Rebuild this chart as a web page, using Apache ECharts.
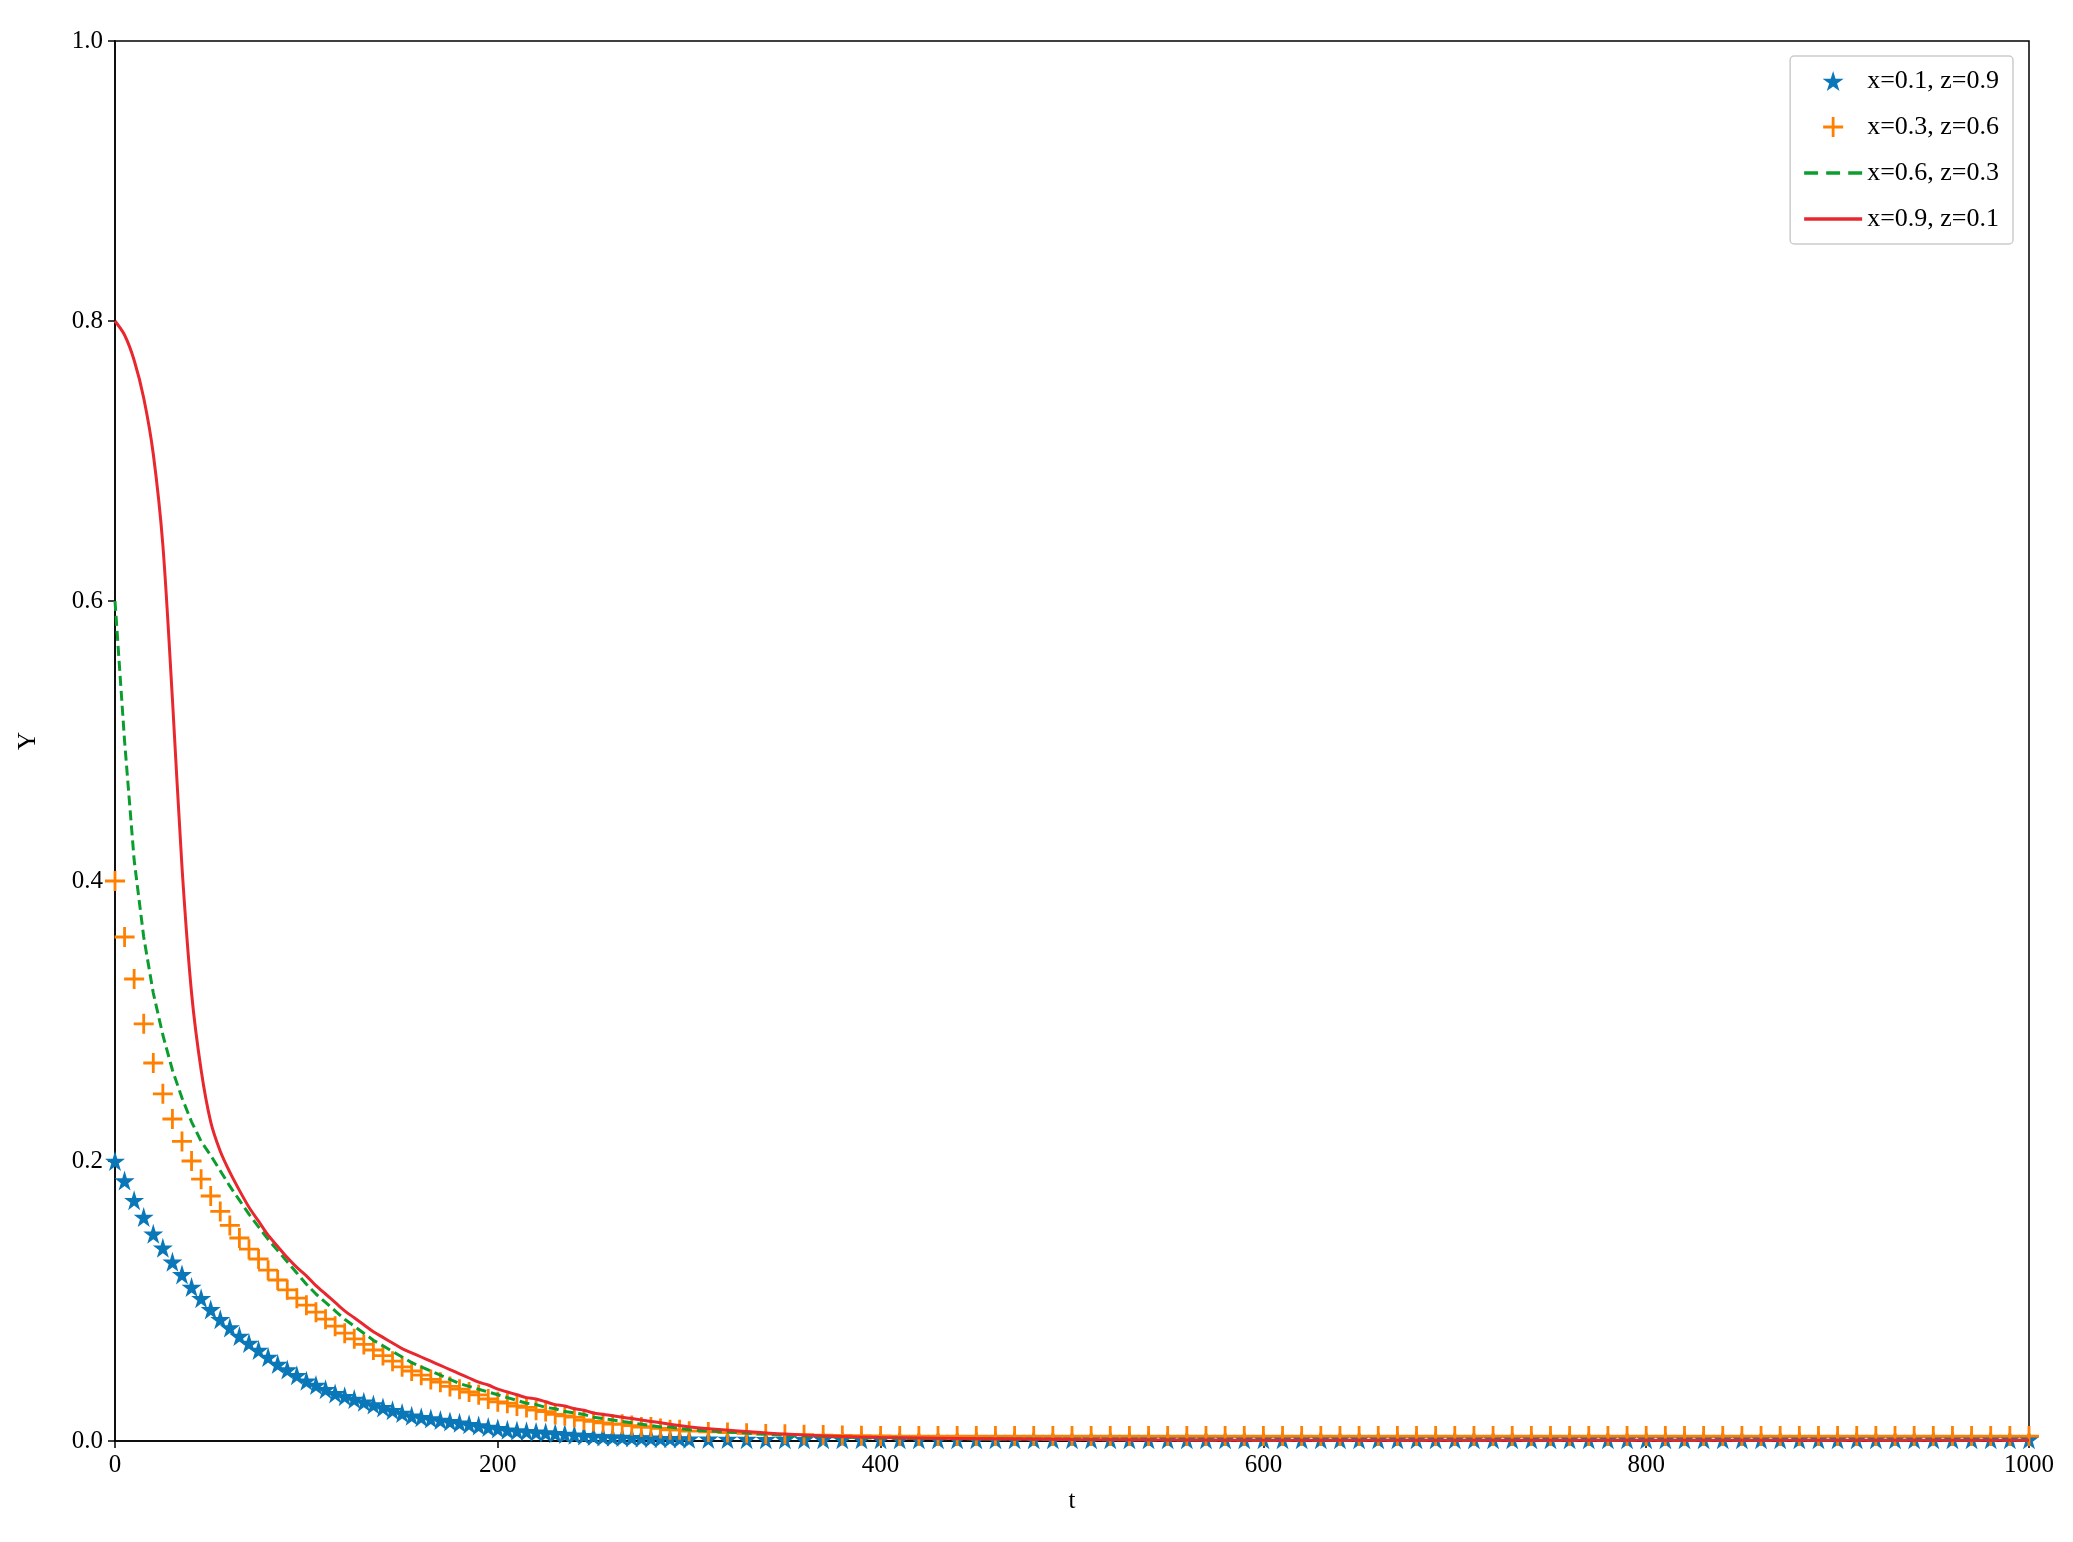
<!DOCTYPE html>
<html>
<head>
<meta charset="utf-8">
<script src="https://cdn.jsdelivr.net/npm/echarts@6/dist/echarts.min.js"></script>
<style>html,body{margin:0;padding:0;background:#fff}#main{width:2073px;height:1542px}</style>
</head>
<body>
<div id="main"></div>
<script>
// t = 0..300 step 5
const tHead = [];
for (let i = 0; i <= 60; i++) tHead.push(i * 5);
// marker tail: 310..1000 step 10
const tTail = [];
for (let i = 31; i <= 100; i++) tTail.push(i * 10);
const tLineTail = [350, 400, 500, 600, 700, 800, 900, 1000];

const blueHead = [0.200,0.186,0.172,0.160,0.148,0.138,0.128,0.119,0.110,0.102,0.094,
  0.087,0.081,0.075,0.070,0.065,0.060,0.055,0.051,0.047,0.043,
  0.040,0.037,0.034,0.032,0.030,0.028,0.026,0.024,0.022,0.020,
  0.018,0.017,0.016,0.015,0.014,0.013,0.012,0.011,0.010,0.009,
  0.008,0.0075,0.007,0.0065,0.006,0.0055,0.005,0.0045,0.004,0.0035,
  0.0032,0.003,0.0028,0.0026,0.0024,0.0022,0.002,0.002,0.0018,0.0016];
const blueTail = [0.0015,0.0014,0.0013,0.0012,0.0012,0.0012,0.0012,0.0012,0.0012,0.0012,
  0.0012,0.0012,0.0012,0.0012,0.0012,0.0012,0.0012,0.0012,0.0012,0.0012,
  0.0012,0.0012,0.0012,0.0012,0.0012,0.0012,0.0012,0.0012,0.0012,0.0012,
  0.0012,0.0012,0.0012,0.0012,0.0012,0.0012,0.0012,0.0012,0.0012,0.0012,
  0.0012,0.0012,0.0012,0.0012,0.0012,0.0012,0.0012,0.0012,0.0012,0.0012,
  0.0012,0.0012,0.0012,0.0012,0.0012,0.0012,0.0012,0.0012,0.0012,0.0012,
  0.0012,0.0012,0.0012,0.0012,0.0012,0.0012,0.0012,0.0012,0.0012,0.0012];

const orangeHead = [0.400,0.360,0.330,0.298,0.270,0.248,0.230,0.214,0.200,0.187,0.175,
  0.164,0.154,0.145,0.137,0.130,0.122,0.115,0.108,0.102,0.097,
  0.092,0.087,0.082,0.077,0.073,0.069,0.065,0.061,0.057,0.053,
  0.050,0.047,0.044,0.042,0.039,0.037,0.035,0.033,0.030,0.028,
  0.027,0.025,0.024,0.022,0.021,0.019,0.018,0.017,0.015,0.014,
  0.013,0.012,0.012,0.011,0.010,0.010,0.009,0.008,0.008,0.007];
const orangeTail = [0.0065,0.006,0.0055,0.005,0.0048,0.0045,0.0042,0.004,0.0038,0.0036,
  0.0035,0.0035,0.0035,0.0035,0.0035,0.0035,0.0035,0.0035,0.0035,0.0035,
  0.0035,0.0035,0.0035,0.0035,0.0035,0.0035,0.0035,0.0035,0.0035,0.0035,
  0.0035,0.0035,0.0035,0.0035,0.0035,0.0035,0.0035,0.0035,0.0035,0.0035,
  0.0035,0.0035,0.0035,0.0035,0.0035,0.0035,0.0035,0.0035,0.0035,0.0035,
  0.0035,0.0035,0.0035,0.0035,0.0035,0.0035,0.0035,0.0035,0.0035,0.0035,
  0.0035,0.0035,0.0035,0.0035,0.0035,0.0035,0.0035,0.0035,0.0035,0.0035];

const greenHead = [0.600,0.500,0.415,0.360,0.320,0.290,0.265,0.245,0.228,0.214,0.204,
  0.193,0.182,0.172,0.162,0.153,0.144,0.136,0.128,0.120,0.112,
  0.105,0.099,0.093,0.087,0.082,0.077,0.072,0.068,0.064,0.060,
  0.056,0.053,0.050,0.047,0.044,0.041,0.039,0.037,0.035,0.033,
  0.031,0.029,0.027,0.026,0.024,0.023,0.021,0.020,0.019,0.017,
  0.016,0.015,0.014,0.013,0.012,0.011,0.010,0.010,0.009,0.008];
const greenTail = [0.004,0.002,0.001,0.0005,0.0005,0.0005,0.0005,0.0005];

const redHead = [0.800,0.790,0.772,0.745,0.705,0.640,0.530,0.410,0.320,0.265,0.228,
  0.207,0.192,0.179,0.167,0.157,0.147,0.139,0.131,0.124,0.118,
  0.111,0.105,0.099,0.093,0.088,0.083,0.078,0.074,0.070,0.066,
  0.063,0.060,0.057,0.054,0.051,0.048,0.045,0.042,0.040,0.037,
  0.035,0.033,0.031,0.030,0.028,0.026,0.025,0.023,0.022,0.020,
  0.019,0.018,0.017,0.016,0.015,0.014,0.013,0.012,0.011,0.010];
const redTail = [0.005,0.0025,0.001,0.0005,0.0005,0.0005,0.0005,0.0005];

const names = ['x=0.1, z=0.9', 'x=0.3, z=0.6', 'x=0.6, z=0.3', 'x=0.9, z=0.1'];
const zip = (ts, ys) => ts.map((t, i) => [t, ys[i]]);

const starPath = 'path://M50,0L61,35L98,35L68,57L79,91L50,70L21,91L32,57L2,35L39,35Z';
const plusPath = 'path://M43,0H57V43H100V57H57V100H43V57H0V43H43Z';
const solidIcon = 'path://M0,0H100V6H0Z';
const dashIcon = 'path://M0,0H24V6H0ZM38,0H62V6H38ZM76,0H100V6H76Z';
const font = 'Liberation Serif';

const chart = echarts.init(document.getElementById('main'));
chart.setOption({
  animation: false,
  textStyle: { fontFamily: font },
  grid: { left: 115, right: 44, top: 41, bottom: 101, show: true, borderColor: '#000', borderWidth: 1.5 },
  legend: {
    right: 60, top: 56, orient: 'vertical', itemGap: 20, itemWidth: 58, itemHeight: 20,
    padding: [12, 14, 12, 14], borderColor: '#ccc', borderWidth: 1.5, borderRadius: 4,
    textStyle: { fontFamily: font, fontSize: 26, color: '#000' },
    data: [
      { name: names[0], icon: starPath },
      { name: names[1], icon: plusPath },
      { name: names[2], icon: dashIcon },
      { name: names[3], icon: solidIcon }
    ]
  },
  xAxis: {
    type: 'value', min: 0, max: 1000, interval: 200, name: 't', nameLocation: 'middle', nameGap: 48,
    nameTextStyle: { fontSize: 25, color: '#000' },
    axisLine: { lineStyle: { color: '#000', width: 1.5 } },
    axisTick: { show: true, length: 7, lineStyle: { color: '#000', width: 1.5 } },
    axisLabel: { fontSize: 25, color: '#000', margin: 12, formatter: v => String(v) },
    splitLine: { show: false }
  },
  yAxis: {
    type: 'value', min: 0, max: 1, interval: 0.2, name: 'Y', nameLocation: 'middle', nameGap: 74,
    nameTextStyle: { fontSize: 25, color: '#000' },
    axisLine: { show: true, lineStyle: { color: '#000', width: 1.5 } },
    axisTick: { show: true, length: 7, lineStyle: { color: '#000', width: 1.5 } },
    axisLabel: { fontSize: 25, color: '#000', margin: 12, formatter: v => v.toFixed(1) },
    splitLine: { show: false }
  },
  series: [
    {
      name: names[0], type: 'scatter', symbol: starPath, symbolSize: 20,
      itemStyle: { color: '#0a77b8', opacity: 1 },
      data: zip(tHead, blueHead).concat(zip(tTail, blueTail))
    },
    {
      name: names[1], type: 'scatter', symbol: plusPath, symbolSize: 20,
      itemStyle: { color: '#ff8000', opacity: 1 },
      data: zip(tHead, orangeHead).concat(zip(tTail, orangeTail))
    },
    {
      name: names[2], type: 'line', showSymbol: false, symbol: 'none',
      lineStyle: { color: '#0b9e2f', width: 3, type: [10, 5] }, itemStyle: { color: '#0b9e2f' },
      data: zip(tHead, greenHead).concat(zip(tLineTail, greenTail))
    },
    {
      name: names[3], type: 'line', showSymbol: false, symbol: 'none', smooth: 0.3,
      lineStyle: { color: '#e8282e', width: 3 }, itemStyle: { color: '#e8282e' },
      data: zip(tHead, redHead).concat(zip(tLineTail, redTail))
    }
  ]
});
</script>
</body>
</html>
